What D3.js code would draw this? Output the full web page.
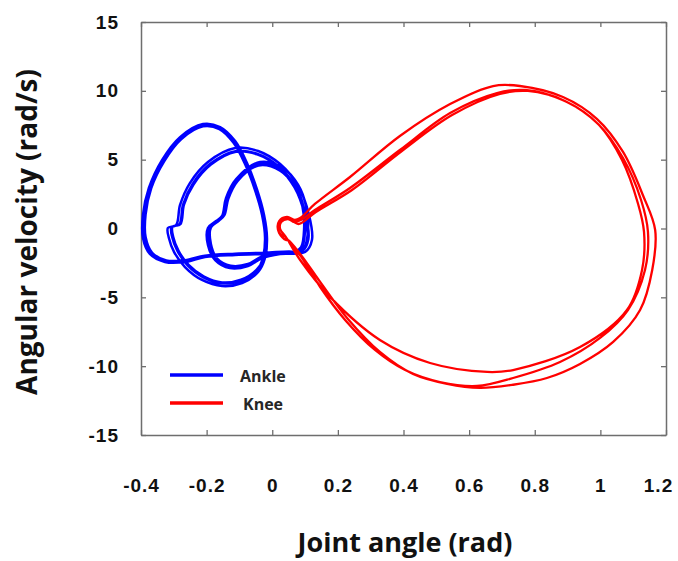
<!DOCTYPE html>
<html>
<head>
<meta charset="utf-8">
<script src="https://cdn.jsdelivr.net/npm/d3@7"></script>
<style>
  body { margin: 0; background: #fff; }
  svg { display: block; font-family: "Open Sans", sans-serif; }
</style>
</head>
<body>
<svg width="678" height="561"></svg>
<script>
// [joint angle (rad), angular velocity (rad/s)], one array per gait cycle
var ankleCycle1 = [[0.069,-1.78],[-0.022,-1.85],[-0.113,-1.92],[-0.205,-2.07],[-0.266,-2.43],[-0.327,-2.43],[-0.373,-1.85],[-0.394,-0.69],[-0.394,0.98],[-0.376,2.94],[-0.336,4.97],[-0.281,6.64],[-0.211,7.59],[-0.159,7.37],[-0.113,6.35],[-0.077,4.76],[-0.046,2.80],[-0.025,0.98],[-0.016,-0.69],[-0.022,-2.14],
  [-0.043,-3.16],[-0.092,-3.96],[-0.153,-4.18],[-0.214,-3.74],[-0.266,-2.80],[-0.299,-1.71],
  [-0.315,-0.69],[-0.318,0.04],[-0.293,0.25],[-0.281,1.71],[-0.251,3.30],[-0.196,4.83],[-0.113,5.85],[-0.043,5.63],[0.024,4.68],[0.079,3.09],[0.112,0.98],[0.121,-0.84],[0.100,-1.71],
  [0.024,-1.85],[-0.031,-2.14],[-0.074,-2.72],[-0.129,-2.87],[-0.174,-2.29],[-0.196,-1.20],
  [-0.196,0.04],[-0.171,0.54],[-0.153,0.91],[-0.141,2.21],[-0.110,3.59],[-0.037,4.83],[0.033,4.39],[0.079,3.16],[0.103,1.63],[0.109,-0.11],[0.097,-1.42],[0.069,-1.78]];
var ankleCycle2 = [[0.066,-1.70],[-0.022,-1.76],[-0.113,-1.83],[-0.205,-1.97],[-0.266,-2.30],[-0.323,-2.32],[-0.366,-1.76],[-0.386,-0.62],[-0.386,1.02],[-0.369,2.92],[-0.329,4.90],[-0.277,6.50],[-0.211,7.42],[-0.161,7.22],[-0.118,6.22],[-0.083,4.68],[-0.052,2.76],[-0.031,0.98],[-0.022,-0.66],[-0.028,-2.08],
  [-0.046,-3.05],[-0.094,-3.78],[-0.153,-3.98],[-0.210,-3.55],[-0.258,-2.68],[-0.289,-1.62],
  [-0.305,-0.62],[-0.307,0.10],[-0.283,0.30],[-0.272,1.72],[-0.243,3.22],[-0.190,4.68],[-0.112,5.62],[-0.045,5.42],[0.019,4.52],[0.071,3.00],[0.102,0.98],[0.110,-0.78],[0.092,-1.62],
  [0.024,-1.76],[-0.033,-2.08],[-0.074,-2.62],[-0.127,-2.75],[-0.170,-2.20],[-0.190,-1.15],
  [-0.190,0.06],[-0.166,0.55],[-0.149,0.95],[-0.137,2.18],[-0.108,3.48],[-0.040,4.65],[0.027,4.25],[0.071,3.08],[0.095,1.60],[0.100,-0.08],[0.090,-1.38],[0.066,-1.70]];
var ankleCycle3 = [[0.067,-1.74],[-0.022,-1.81],[-0.113,-1.88],[-0.205,-2.02],[-0.266,-2.37],[-0.325,-2.38],[-0.370,-1.81],[-0.390,-0.66],[-0.390,1.00],[-0.372,2.93],[-0.332,4.94],[-0.279,6.57],[-0.211,7.50],[-0.160,7.30],[-0.115,6.28],[-0.080,4.72],[-0.049,2.78],[-0.028,0.98],[-0.019,-0.68],[-0.025,-2.11],
  [-0.048,-3.00],[-0.095,-3.72],[-0.153,-3.92],[-0.208,-3.50],[-0.255,-2.65],[-0.286,-1.60],
  [-0.302,-0.60],[-0.304,0.12],[-0.280,0.32],[-0.269,1.74],[-0.240,3.20],[-0.187,4.64],[-0.111,5.58],[-0.046,5.38],[0.017,4.49],[0.068,2.98],[0.099,0.98],[0.107,-0.76],[0.090,-1.60],
  [0.024,-1.74],[-0.033,-2.05],[-0.074,-2.58],[-0.127,-2.70],[-0.168,-2.18],[-0.187,-1.13],
  [-0.187,0.08],[-0.163,0.56],[-0.146,0.97],[-0.134,2.16],[-0.106,3.44],[-0.042,4.58],[0.024,4.20],[0.068,3.05],[0.092,1.60],[0.097,-0.06],[0.088,-1.36],[0.067,-1.74]];

var kneeCycle1 = [[0.036,-0.69],[0.018,-0.11],[0.021,0.54],[0.045,0.84],[0.069,0.62],[0.085,0.76],
  [0.130,1.78],[0.237,3.74],[0.389,6.72],[0.542,9.04],[0.673,10.35],[0.755,10.35],[0.886,9.55],[0.990,7.95],[1.069,5.56],[1.130,2.40],[1.167,-0.11],
  [1.158,-3.01],[1.121,-5.92],[1.039,-8.24],[0.938,-9.84],[0.837,-10.86],[0.734,-11.35],[0.633,-11.58],[0.533,-11.29],[0.429,-10.57],[0.328,-8.97],[0.228,-6.50],[0.146,-3.88],[0.085,-1.85],[0.048,-0.84]];
var kneeCycle2 = [[0.042,-0.84],[0.021,-0.33],[0.018,0.33],[0.036,0.76],[0.060,0.69],[0.079,0.54],
  [0.130,1.34],[0.237,2.94],[0.389,5.70],[0.542,8.39],[0.685,9.84],[0.770,10.06],[0.892,9.26],[0.993,7.59],[1.069,5.12],[1.124,2.07],[1.145,-0.25],
  [1.136,-3.01],[1.084,-5.92],[0.999,-7.95],[0.877,-9.70],[0.734,-10.86],[0.624,-11.44],[0.511,-11.15],[0.405,-10.28],[0.313,-8.82],[0.222,-6.64],[0.146,-4.25],[0.091,-2.14],[0.054,-1.05]];
var kneeCycle3 = [[0.039,-0.54],[0.024,-0.04],[0.027,0.47],[0.048,0.69],[0.066,0.47],[0.082,0.33],
  [0.133,1.20],[0.243,2.80],[0.395,5.63],[0.548,8.24],[0.694,9.77],[0.779,9.99],[0.898,9.19],[0.996,7.52],[1.066,4.97],[1.115,1.78],[1.133,-0.25],
  [1.127,-3.01],[1.081,-5.92],[0.938,-8.61],[0.734,-10.28],[0.655,-10.42],[0.481,-9.77],[0.328,-8.10],[0.176,-4.97],[0.085,-2.29],[0.051,-0.98]];

var xTicks = [-0.4, -0.2, 0, 0.2, 0.4, 0.6, 0.8, 1, 1.2];
var yTicks = [-15, -10, -5, 0, 5, 10, 15];
var seriesNames = ["Ankle", "Knee"];
var seriesColors = ["#0000ff", "#ff0000"];

var svg = d3.select("svg");
var margin = {top: 22, right: 12, bottom: 126, left: 141};
var width = +svg.attr("width") - margin.left - margin.right;
var height = +svg.attr("height") - margin.top - margin.bottom;
var g = svg.append("g").attr("transform", "translate(" + margin.left + "," + margin.top + ")");

var x = d3.scaleLinear().domain([-0.4, 1.2]).range([0, width]);
var y = d3.scaleLinear().domain([-15, 15]).range([height, 0]);

var fmt = function(d){ return String(+d.toFixed(1)); };

function styleAxis(sel){
    sel.select(".domain").attr("stroke", "#6e6e6e").attr("stroke-width", 1.5);
    sel.selectAll(".tick line").attr("stroke", "#6e6e6e").attr("stroke-width", 1.3);
    sel.selectAll(".tick text")
        .attr("fill", "#111")
        .style("font-size", "19px")
        .style("font-weight", "700")
        .style("letter-spacing", "1px");
}

var xAxisG = g.append("g").attr("transform", "translate(0," + height + ")")
    .call(d3.axisBottom(x).tickValues(xTicks).tickFormat(fmt).tickSize(-5).tickSizeOuter(0).tickPadding(44))
    .call(styleAxis);
// last label is pulled in so it stays inside the picture, as in the original
xAxisG.selectAll(".tick text").filter(function(d){ return d === 1.2; }).attr("dx", -8);

g.append("g")
    .call(d3.axisTop(x).tickValues(xTicks).tickFormat("").tickSize(-5).tickSizeOuter(0))
    .call(styleAxis);
g.append("g")
    .call(d3.axisLeft(y).tickValues(yTicks).tickFormat(fmt).tickSize(-5).tickSizeOuter(0).tickPadding(22))
    .call(styleAxis);
g.append("g").attr("transform", "translate(" + width + ",0)")
    .call(d3.axisRight(y).tickValues(yTicks).tickFormat("").tickSize(-5).tickSizeOuter(0))
    .call(styleAxis);

var line = d3.line()
    .x(function(d){ return x(d[0]); })
    .y(function(d){ return y(d[1]); })
    .curve(d3.curveCatmullRom.alpha(0.5));

var ankle = ankleCycle1.concat(ankleCycle2, ankleCycle3);
var knee = kneeCycle1.concat(kneeCycle2, kneeCycle3);

[ankle, knee].forEach(function(series, i){
    g.append("path")
        .datum(series)
        .attr("fill", "none")
        .attr("stroke", seriesColors[i])
        .attr("stroke-width", i === 0 ? 2.5 : 2.3)
        .attr("stroke-linejoin", "round")
        .attr("d", line);
});

// legend
var legend = g.append("g").attr("transform", "translate(" + (170 - margin.left) + "," + (375 - margin.top) + ")");
seriesNames.forEach(function(name, i){
    legend.append("line")
        .attr("x1", 0).attr("x2", 53)
        .attr("y1", i * 28).attr("y2", i * 28)
        .attr("stroke", seriesColors[i])
        .attr("stroke-width", 3.5);
    legend.append("text")
        .attr("x", 70 + i * 3)
        .attr("y", i * 28 + 7)
        .attr("fill", "#262626")
        .style("font-size", "16px")
        .style("font-weight", "700")
        .text(name);
});

// axis titles
svg.append("text")
    .attr("x", 405).attr("y", 552)
    .attr("text-anchor", "middle")
    .attr("fill", "#111")
    .style("font-size", "27px")
    .style("font-weight", "700")
    .text("Joint angle (rad)");

svg.append("text")
    .attr("transform", "translate(37,232) rotate(-90)")
    .attr("text-anchor", "middle")
    .attr("fill", "#111")
    .style("font-size", "28px")
    .style("font-weight", "700")
    .text("Angular velocity (rad/s)");
</script>
</body>
</html>
